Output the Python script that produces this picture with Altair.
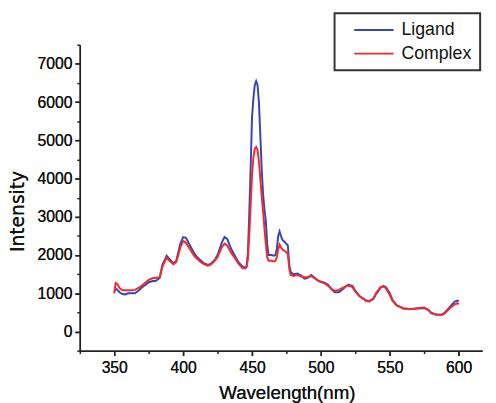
import altair as alt
import pandas as pd

wavelength = [350, 351, 352, 354, 356, 358, 360, 363, 365, 368, 370, 373, 375, 378, 380,
              383, 385, 387, 388, 390, 393, 395, 398, 400, 402, 405, 408, 410, 413, 415,
              418, 420, 423, 425, 428, 430, 432, 435, 438, 440, 443, 445, 446, 447, 448,
              449, 450, 451, 452, 453, 454, 455, 456, 457, 458, 459, 460, 461, 462, 464,
              466, 467, 468, 469, 470, 471, 472, 474, 476, 477, 478, 480, 483, 486, 488,
              490, 493, 495, 498, 500, 503, 505, 508, 510, 513, 515, 518, 520, 523, 525,
              528, 530, 533, 535, 538, 540, 543, 545, 547, 550, 552, 555, 558, 560, 565,
              570, 575, 578, 580, 583, 585, 588, 590, 593, 595, 597, 599, 600]

ligand = [1050, 1120, 1100, 1020, 980, 970, 1000, 1000, 1000, 1080, 1150, 1230, 1290, 1320, 1320,
          1400, 1750, 1900, 1980, 1900, 1780, 1850, 2300, 2470, 2450, 2250, 2050, 1950, 1850, 1790,
          1740, 1770, 1880, 2000, 2320, 2470, 2420, 2150, 1950, 1820, 1700, 1670, 1700, 2050, 3080,
          4270, 5600, 6100, 6450, 6550, 6450, 6000, 5150, 4270, 3600, 3200, 2900, 2300, 2000, 2000,
          1980, 2000, 2150, 2500, 2620, 2500, 2400, 2330, 2250, 1750, 1560, 1500, 1520, 1460, 1380,
          1400, 1480, 1420, 1330, 1300, 1270, 1230, 1100, 1030, 1030, 1080, 1180, 1230, 1190, 1060,
          930, 880, 810, 790, 850, 980, 1130, 1190, 1170, 1000, 820, 690, 630, 600, 590,
          600, 610, 560, 490, 450, 440, 440, 500, 620, 700, 780, 810, 790]

complex_ = [1000, 1270, 1250, 1130, 1080, 1080, 1080, 1080, 1090, 1150, 1200, 1290, 1350, 1400, 1400,
            1420, 1700, 1860, 1930, 1850, 1760, 1820, 2200, 2370, 2320, 2150, 1980, 1900, 1810, 1760,
            1720, 1750, 1850, 1950, 2200, 2300, 2250, 2050, 1900, 1780, 1660, 1650, 1680, 1900, 2500,
            3300, 4100, 4550, 4780, 4830, 4750, 4450, 4000, 3550, 3150, 2700, 2300, 1950, 1850, 1850,
            1830, 1850, 1950, 2150, 2270, 2200, 2150, 2100, 2030, 1650, 1480, 1450, 1480, 1430, 1420,
            1420, 1450, 1400, 1330, 1300, 1250, 1200, 1100, 1070, 1090, 1130, 1180, 1200, 1160, 1040,
            920, 870, 800, 790, 860, 1000, 1150, 1180, 1140, 960, 800, 680, 640, 600, 580,
            610, 630, 570, 480, 445, 440, 440, 480, 590, 650, 710, 740, 710]

series_names = ["Ligand", "Complex"]
series_colors = ["#3646b4", "#f42a2a"]

x_major = [350, 400, 450, 500, 550, 600]
x_minor = [325, 375, 425, 475, 525, 575]
y_major = [0, 1000, 2000, 3000, 4000, 5000, 6000, 7000]
y_minor = [-500, 500, 1500, 2500, 3500, 4500, 5500, 6500, 7500]

rows = []
for name, vals in zip(series_names, [ligand, complex_]):
    for w, v in zip(wavelength, vals):
        rows.append({"Wavelength": w, "Intensity": v, "Series": name})
df = pd.DataFrame(rows)

FONT = "Liberation Sans"
AXC = "#222222"

xscale = alt.Scale(domain=[325, 617], nice=False, zero=False)
yscale = alt.Scale(domain=[-500, 7500], nice=False, zero=False)
color = alt.Color("Series:N",
                  scale=alt.Scale(domain=series_names, range=series_colors),
                  legend=alt.Legend(title=None, orient="none", legendX=259, legendY=-32,
                                    symbolType="M-4,0H4", symbolSize=100, symbolStrokeWidth=1.8,
                                    labelFontSize=18, labelFont=FONT, labelColor="#111",
                                    padding=8, rowPadding=6, labelOffset=19, symbolOffset=23,
                                    strokeColor="#333333", fillColor="white"))

major_x = alt.Axis(values=x_major, orient="bottom", title="Wavelength(nm)", tickSize=5,
                   labelPadding=4, grid=False, format="d", titleX=210.5, titleY=48.5,
                   titleBaseline="alphabetic", titleFontSize=19, titleFont=FONT,
                   titleFontWeight="normal", titleColor="#111")
major_y = alt.Axis(values=y_major, orient="left", title="Intensity", tickSize=5,
                   labelPadding=3, grid=False, format="d", titleX=-57, titleY=169,
                   titleBaseline="alphabetic", titleAngle=-90, titleFontSize=19,
                   titleFont="DejaVu Sans", titleFontWeight="normal", titleColor="#111")

def line_layer(name):
    return alt.Chart(df).transform_filter(alt.datum.Series == name).mark_line(
        strokeWidth=2, interpolate="linear").encode(
        x=alt.X("Wavelength:Q", scale=xscale, axis=major_x),
        y=alt.Y("Intensity:Q", scale=yscale, axis=major_y),
        color=color,
        order=alt.Order("Wavelength:Q"),
    )

minor_layer = alt.Chart(df).mark_line(strokeOpacity=0).encode(
    x=alt.X("Wavelength:Q", scale=xscale,
            axis=alt.Axis(values=x_minor, orient="bottom", labels=False, title=None,
                          tickSize=3, domain=False, grid=False)),
    y=alt.Y("Intensity:Q", scale=yscale,
            axis=alt.Axis(values=y_minor, orient="left", labels=False, title=None,
                          tickSize=3, domain=False, grid=False)),
    detail="Series:N",
)

chart = alt.layer(line_layer("Ligand"), line_layer("Complex"), minor_layer).resolve_axis(
    x="independent", y="independent"
).properties(
    width=409, height=311,
    autosize=alt.AutoSizeParams(type="none"),
    padding={"left": 73, "top": 34, "right": 6, "bottom": 58},
    background="white",
).configure_view(stroke=None).configure_axis(
    domainColor=AXC, domainWidth=1.5, tickColor=AXC, tickWidth=1.5,
    labelFont=FONT, labelFontSize=16, labelColor="#111",
).configure_legend(strokeWidth=2)

chart.save("out.html", embed_options={"renderer": "svg", "actions": False})
